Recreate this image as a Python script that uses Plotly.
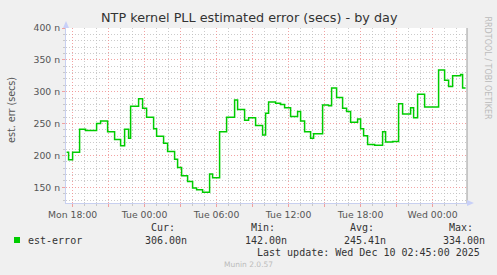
import plotly.graph_objects as go

# ---- data (values in nanoseconds) ----
times = [
    "2025-12-08 17:30", "2025-12-08 17:40", "2025-12-08 18:00", "2025-12-08 18:35",
    "2025-12-08 19:05", "2025-12-08 20:00", "2025-12-08 20:20", "2025-12-08 20:55",
    "2025-12-08 21:30", "2025-12-08 22:00", "2025-12-08 22:20", "2025-12-08 22:40",
    "2025-12-08 22:50", "2025-12-08 23:30", "2025-12-08 23:50", "2025-12-09 00:10",
    "2025-12-09 00:45", "2025-12-09 01:00", "2025-12-09 01:35", "2025-12-09 01:55",
    "2025-12-09 02:30", "2025-12-09 02:45", "2025-12-09 03:05", "2025-12-09 03:35",
    "2025-12-09 04:00", "2025-12-09 04:20", "2025-12-09 04:50", "2025-12-09 05:25",
    "2025-12-09 05:40", "2025-12-09 06:15", "2025-12-09 06:50", "2025-12-09 07:30",
    "2025-12-09 07:45", "2025-12-09 08:20", "2025-12-09 08:40", "2025-12-09 09:15",
    "2025-12-09 09:50", "2025-12-09 10:05", "2025-12-09 10:20", "2025-12-09 10:55",
    "2025-12-09 11:20", "2025-12-09 11:40", "2025-12-09 12:10", "2025-12-09 12:45",
    "2025-12-09 13:00", "2025-12-09 13:20", "2025-12-09 13:50", "2025-12-09 14:05",
    "2025-12-09 14:50", "2025-12-09 15:20", "2025-12-09 15:35", "2025-12-09 16:00",
    "2025-12-09 16:30", "2025-12-09 16:50", "2025-12-09 17:10", "2025-12-09 17:45",
    "2025-12-09 18:00", "2025-12-09 18:15", "2025-12-09 18:35", "2025-12-09 19:10",
    "2025-12-09 19:50", "2025-12-09 20:05", "2025-12-09 20:40", "2025-12-09 21:10",
    "2025-12-09 21:30", "2025-12-09 22:10", "2025-12-09 22:25", "2025-12-09 22:45",
    "2025-12-09 23:20", "2025-12-10 00:30", "2025-12-10 01:00", "2025-12-10 01:20",
    "2025-12-10 01:40", "2025-12-10 02:20", "2025-12-10 02:30", "2025-12-10 02:45",
]
est_error = [
    205, 193, 205, 241,
    239, 250, 254, 237,
    225, 215, 241, 227,
    277, 289, 274, 260,
    242, 230, 219, 206,
    194, 181, 168, 159,
    149, 146, 142, 171,
    165, 237, 260, 287,
    272, 255, 259, 247,
    232, 266, 284, 282,
    280, 275, 261, 269,
    254, 237, 227, 234,
    279, 278, 306, 291,
    274, 269, 252, 257,
    242, 231, 217, 216,
    237, 221, 222, 281,
    265, 275, 259, 296,
    276, 334, 318, 308,
    325, 327, 306, 306,
]
series_name = "est-error"
stat_labels = ["Cur:", "Min:", "Avg:", "Max:"]
stat_values = ["306.00n", "142.00n", "245.41n", "334.00n"]
title_text = "NTP kernel PLL estimated error (secs) - by day"
y_title = "est. err (secs)"
last_update = "Last update: Wed Dec 10 02:45:00 2025"
footer = "Munin 2.0.57"
side_text = "RRDTOOL / TOBI OETIKER"
x_range = ["2025-12-08 17:27", "2025-12-10 02:52"]
y_range = [125.3, 400]

# ---- layout geometry (pixels) ----
W, H = 497, 275
PL, PR, PT, PB = 66, 467, 28, 203
pw, ph = PR - PL, PB - PT

def px(x):
    return (x - PL) / pw

def py(y):
    return (PB - y) / ph

RED = "rgba(240,140,140,0.8)"
GRAY = "rgba(190,190,190,0.8)"
TXT = "#555555"
FONT = "DejaVu Sans"
MONO = "DejaVu Sans Mono"
DOTS = "1px,2px"

fig = go.Figure()
fig.add_trace(go.Scatter(
    x=times, y=est_error, mode="lines", line_shape="hv",
    line=dict(color="#00CC00", width=1.5), showlegend=False, hoverinfo="skip",
))

hidden = ["Mon 21:00", "Tue 03:00", "Tue 09:00", "Tue 15:00", "Tue 21:00", "Wed 03:00",
          "Mon 15:00"]

fig.update_layout(
    width=W, height=H,
    margin=dict(l=PL, r=W - PR, t=PT, b=H - PB, pad=0),
    paper_bgcolor="#F0F0F0", plot_bgcolor="#FFFFFF",
    font=dict(family=FONT, size=9.3, color=TXT),
    xaxis=dict(
        type="date", range=x_range,
        tick0="2025-12-08 18:00", dtick=3 * 3600 * 1000,
        tickformat="%a %H:%M", labelalias={h: "" for h in hidden},
        showgrid=True, gridcolor=RED, griddash=DOTS, gridwidth=1,
        ticks="outside", ticklen=3, tickcolor=RED,
        tickfont=dict(family=FONT, size=9.3, color=TXT),
        showline=True, linecolor="#C8D0F0", linewidth=1,
        zeroline=False,
        minor=dict(dtick=3600 * 1000, tick0="2025-12-08 18:00", showgrid=True,
                   gridcolor=GRAY, griddash=DOTS, gridwidth=1,
                   ticks="outside", ticklen=2, tickcolor=GRAY),
    ),
    yaxis=dict(
        range=y_range, tick0=0, dtick=50, ticksuffix=" n",
        showgrid=True, gridcolor=RED, griddash=DOTS, gridwidth=1,
        ticks="outside", ticklen=3, tickcolor=RED,
        tickfont=dict(family=FONT, size=9.3, color=TXT),
        showline=True, linecolor="#C8D0F0", linewidth=1,
        zeroline=False,
        minor=dict(dtick=10, showgrid=True, gridcolor=GRAY, griddash=DOTS, gridwidth=1,
                   ticks="outside", ticklen=2, tickcolor=GRAY),
    ),
)

shapes = []
# right frame line
shapes.append(dict(type="line", xref="paper", yref="paper", x0=1, x1=1, y0=0, y1=1,
                   line=dict(color="#9A9A9A", width=1)))
# axis arrows
shapes.append(dict(type="path", xref="paper", yref="paper",
                   path=f"M {px(63)} {py(PT)} L {px(69)} {py(PT)} L {px(66)} {py(21)} Z",
                   fillcolor="#C8D0F8", line=dict(width=0)))
shapes.append(dict(type="path", xref="paper", yref="paper",
                   path=f"M {px(PR)} {py(200)} L {px(PR)} {py(206)} L {px(474)} {py(203)} Z",
                   fillcolor="#C8D0F8", line=dict(width=0)))
# legend swatch
shapes.append(dict(type="rect", xref="paper", yref="paper",
                   x0=px(14), x1=px(20), y0=py(243), y1=py(237),
                   fillcolor="#00CC00", line=dict(width=0)))
fig.update_layout(shapes=shapes)

ann = []
ann.append(dict(text=title_text, x=px(249), y=py(18), xref="paper", yref="paper",
                showarrow=False, xanchor="center", yanchor="middle",
                font=dict(family=FONT, size=12.8, color="#333333")))
ann.append(dict(text=y_title, x=px(12), y=py(110), xref="paper", yref="paper",
                showarrow=False, xanchor="center", yanchor="middle", textangle=-90,
                font=dict(family=FONT, size=9.6, color=TXT)))
ann.append(dict(text=side_text, x=px(487), y=py(14), xref="paper", yref="paper",
                showarrow=False, xanchor="center", yanchor="top", textangle=90,
                font=dict(family=FONT, size=8, color="#BBBBBB")))
ann.append(dict(text=series_name, x=px(26), y=py(240), xref="paper", yref="paper",
                showarrow=False, xanchor="left", yanchor="middle",
                font=dict(family=MONO, size=10, color="#333333")))
label_x = [149, 248.7, 348.3, 446.7]
value_x = [143, 243, 342, 441]
for lab, lx in zip(stat_labels, label_x):
    ann.append(dict(text=lab, x=px(lx), y=py(227.5), xref="paper", yref="paper",
                    showarrow=False, xanchor="left", yanchor="middle",
                    font=dict(family=MONO, size=10, color="#333333")))
for val, vx in zip(stat_values, value_x):
    ann.append(dict(text=val, x=px(vx), y=py(240), xref="paper", yref="paper",
                    showarrow=False, xanchor="left", yanchor="middle",
                    font=dict(family=MONO, size=10, color="#333333")))
ann.append(dict(text=last_update, x=px(482), y=py(252), xref="paper", yref="paper",
                showarrow=False, xanchor="right", yanchor="middle",
                font=dict(family=MONO, size=10, color="#333333")))
ann.append(dict(text=footer, x=px(248), y=py(264), xref="paper", yref="paper",
                showarrow=False, xanchor="center", yanchor="middle",
                font=dict(family=FONT, size=7.5, color="#BBBBBB")))
fig.update_layout(annotations=ann)

fig.write_html("out.html")
